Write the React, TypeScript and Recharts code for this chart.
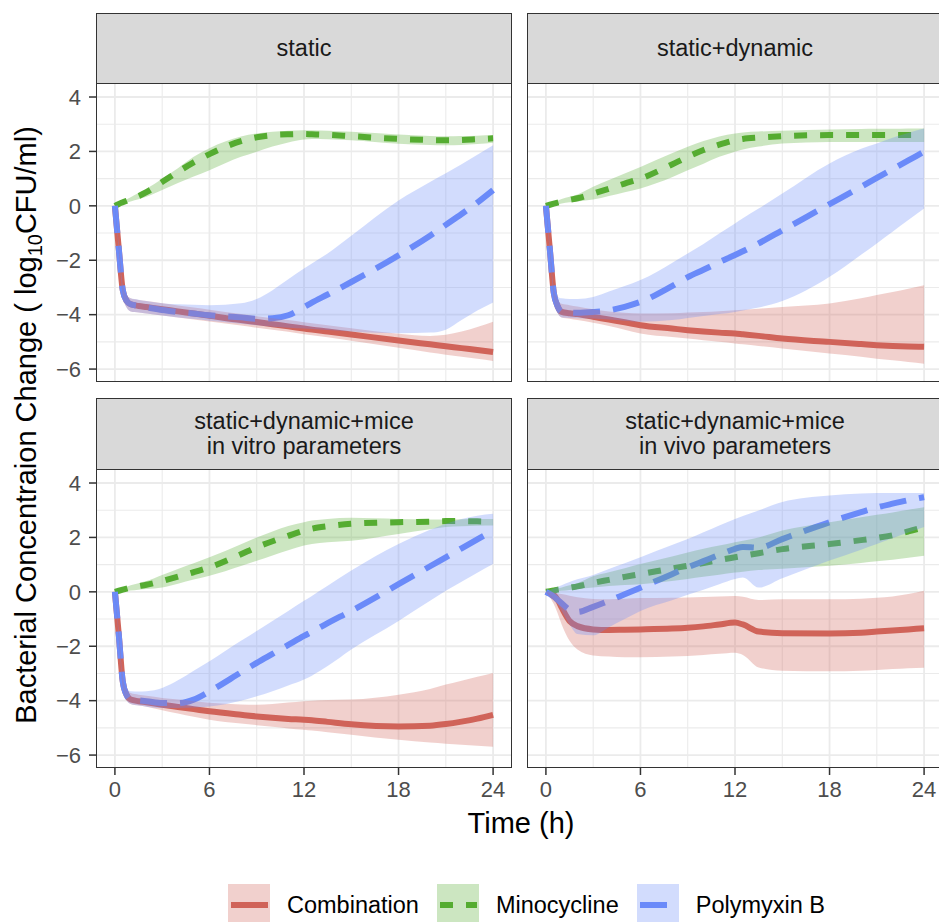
import { ComposedChart, Line, Area, XAxis, YAxis, ReferenceLine } from "recharts";

// time grid (h) shared by every panel
const TIME = [0, 0.25, 0.5, 0.75, 1, 1.5, 2, 3, 4, 5, 6, 8, 9, 10, 11, 12, 12.5, 13.5, 15, 18, 20, 21, 22, 23, 24];

const X_TICKS = [0, 6, 12, 18, 24];
const Y_TICKS = [-6, -4, -2, 0, 2, 4];
const X_GRID = [0, 3, 6, 9, 12, 15, 18, 21, 24];
const Y_GRID = [-6, -5, -4, -3, -2, -1, 0, 1, 2, 3, 4];

const SERIES = ["Combination", "Minocycline", "Polymyxin B"];

// panel 1: static
const P1_COMB = [0, -1.6, -3.1, -3.5, -3.62, -3.68, -3.72, -3.8, -3.88, -3.96, -4.04, -4.2, -4.27, -4.35, -4.43, -4.51, -4.55, -4.62, -4.73, -4.95, -5.09, -5.16, -5.23, -5.3, -5.37];
const P1_COMB_LO = [0, -1.7, -3.3, -3.75, -3.88, -3.92, -3.96, -4.03, -4.1, -4.18, -4.25, -4.4, -4.48, -4.55, -4.63, -4.72, -4.76, -4.83, -4.96, -5.22, -5.39, -5.47, -5.55, -5.62, -5.7];
const P1_COMB_HI = [0, -1.4, -2.9, -3.3, -3.4, -3.46, -3.5, -3.58, -3.66, -3.74, -3.82, -3.98, -4.06, -4.13, -4.2, -4.28, -4.32, -4.39, -4.5, -4.7, -4.78, -4.74, -4.62, -4.45, -4.26];
const P1_MINO = [0, 0.07, 0.13, 0.19, 0.25, 0.36, 0.5, 0.88, 1.25, 1.6, 1.9, 2.38, 2.52, 2.6, 2.63, 2.64, 2.63, 2.61, 2.56, 2.46, 2.42, 2.41, 2.42, 2.45, 2.48];
const P1_MINO_LO = [0, 0.04, 0.08, 0.12, 0.16, 0.24, 0.33, 0.58, 0.84, 1.08, 1.31, 1.8, 1.99, 2.18, 2.33, 2.44, 2.46, 2.45, 2.41, 2.28, 2.24, 2.23, 2.24, 2.27, 2.32];
const P1_MINO_HI = [0, 0.08, 0.16, 0.24, 0.32, 0.47, 0.63, 1.0, 1.38, 1.8, 2.12, 2.55, 2.66, 2.72, 2.76, 2.78, 2.78, 2.76, 2.72, 2.62, 2.57, 2.56, 2.57, 2.58, 2.6];
const P1_POLY = [0, -1.6, -3.1, -3.5, -3.62, -3.68, -3.73, -3.83, -3.9, -3.96, -4.02, -4.1, -4.15, -4.13, -4.02, -3.72, -3.56, -3.26, -2.8, -1.82, -1.1, -0.7, -0.3, 0.12, 0.58];
const P1_POLY_LO = [0, -1.7, -3.3, -3.75, -3.88, -3.92, -3.96, -4.03, -4.1, -4.16, -4.22, -4.33, -4.39, -4.44, -4.48, -4.51, -4.53, -4.56, -4.62, -4.68, -4.66, -4.55, -4.2, -3.85, -3.55];
const P1_POLY_HI = [0, -1.4, -2.9, -3.3, -3.4, -3.45, -3.5, -3.58, -3.62, -3.64, -3.65, -3.58, -3.42, -3.1, -2.7, -2.3, -2.12, -1.75, -1.1, 0.2, 0.88, 1.2, 1.53, 1.88, 2.23];

// panel 2: static+dynamic
const P2_COMB = [0, -1.6, -3.2, -3.7, -3.9, -3.95, -3.98, -4.08, -4.18, -4.28, -4.39, -4.51, -4.57, -4.62, -4.66, -4.69, -4.72, -4.78, -4.88, -5.0, -5.08, -5.12, -5.15, -5.17, -5.18];
const P2_COMB_LO = [0, -1.75, -3.4, -3.95, -4.1, -4.15, -4.2, -4.3, -4.42, -4.55, -4.69, -4.82, -4.88, -4.94, -5.0, -5.06, -5.09, -5.15, -5.24, -5.43, -5.55, -5.62, -5.68, -5.74, -5.8];
const P2_COMB_HI = [0, -1.45, -3.0, -3.45, -3.6, -3.65, -3.7, -3.8, -3.88, -3.93, -3.96, -3.95, -3.92, -3.9, -3.87, -3.84, -3.82, -3.78, -3.72, -3.59, -3.4, -3.28, -3.17, -3.05, -2.92];
const P2_MINO = [0, 0.04, 0.08, 0.12, 0.16, 0.22, 0.28, 0.45, 0.63, 0.82, 1.0, 1.52, 1.8, 2.05, 2.25, 2.41, 2.46, 2.51, 2.56, 2.6, 2.6, 2.6, 2.6, 2.6, 2.6];
const P2_MINO_LO = [0, 0.02, 0.04, 0.06, 0.09, 0.13, 0.16, 0.23, 0.36, 0.5, 0.64, 1.05, 1.31, 1.55, 1.8, 1.99, 2.07, 2.18, 2.29, 2.35, 2.35, 2.35, 2.35, 2.35, 2.35];
const P2_MINO_HI = [0, 0.07, 0.13, 0.19, 0.25, 0.33, 0.42, 0.7, 0.95, 1.19, 1.43, 1.93, 2.17, 2.38, 2.55, 2.66, 2.7, 2.73, 2.76, 2.81, 2.82, 2.83, 2.83, 2.84, 2.84];
const P2_POLY = [0, -1.6, -3.2, -3.7, -3.9, -3.92, -3.93, -3.9, -3.84, -3.71, -3.53, -2.95, -2.62, -2.35, -2.07, -1.81, -1.67, -1.38, -0.9, 0.06, 0.7, 1.03, 1.35, 1.67, 1.99];
const P2_POLY_LO = [0, -1.75, -3.4, -3.95, -4.1, -4.12, -4.13, -4.14, -4.18, -4.22, -4.26, -4.2, -4.12, -4.05, -3.98, -3.9, -3.85, -3.74, -3.5, -2.61, -1.8, -1.38, -0.95, -0.52, -0.1];
const P2_POLY_HI = [0, -1.45, -3.0, -3.35, -3.4, -3.42, -3.42, -3.35, -3.15, -2.95, -2.73, -2.1, -1.75, -1.4, -1.02, -0.65, -0.46, -0.1, 0.45, 1.56, 2.1, 2.29, 2.5, 2.68, 2.84];

// panel 3: static+dynamic+mice, in vitro parameters
const P3_COMB = [0, -1.6, -3.3, -3.8, -3.96, -4.02, -4.06, -4.15, -4.23, -4.31, -4.39, -4.52, -4.58, -4.63, -4.67, -4.7, -4.72, -4.78, -4.87, -4.95, -4.92, -4.86, -4.77, -4.66, -4.52];
const P3_COMB_LO = [0, -1.75, -3.5, -4.0, -4.12, -4.18, -4.22, -4.35, -4.47, -4.59, -4.7, -4.84, -4.9, -4.96, -5.02, -5.07, -5.1, -5.16, -5.25, -5.44, -5.54, -5.58, -5.62, -5.66, -5.69];
const P3_COMB_HI = [0, -1.45, -3.1, -3.6, -3.72, -3.78, -3.82, -3.9, -3.96, -4.02, -4.08, -4.14, -4.15, -4.12, -4.07, -4.02, -4.0, -3.98, -3.96, -3.78, -3.57, -3.41, -3.27, -3.12, -2.98];
const P3_MINO = [0, 0.04, 0.08, 0.12, 0.16, 0.21, 0.26, 0.4, 0.56, 0.72, 0.9, 1.38, 1.64, 1.86, 2.06, 2.25, 2.32, 2.41, 2.5, 2.56, 2.58, 2.6, 2.6, 2.59, 2.58];
const P3_MINO_LO = [0, 0.02, 0.03, 0.04, 0.05, 0.08, 0.1, 0.16, 0.3, 0.45, 0.59, 0.95, 1.14, 1.34, 1.53, 1.7, 1.76, 1.82, 1.88, 2.13, 2.3, 2.38, 2.41, 2.43, 2.44];
const P3_MINO_HI = [0, 0.07, 0.13, 0.19, 0.24, 0.32, 0.4, 0.62, 0.84, 1.05, 1.27, 1.75, 2.0, 2.22, 2.42, 2.56, 2.62, 2.68, 2.72, 2.68, 2.66, 2.66, 2.67, 2.68, 2.68];
const P3_POLY = [0, -1.6, -3.3, -3.8, -3.96, -3.99, -4.02, -4.09, -4.09, -3.96, -3.66, -2.96, -2.61, -2.28, -1.95, -1.62, -1.47, -1.15, -0.7, 0.28, 0.94, 1.27, 1.6, 1.93, 2.25];
const P3_POLY_LO = [0, -1.75, -3.5, -4.0, -4.12, -4.18, -4.22, -4.27, -4.27, -4.25, -4.21, -4.0, -3.84, -3.65, -3.44, -3.22, -3.08, -2.73, -2.12, -1.07, -0.33, 0.04, 0.37, 0.7, 1.02];
const P3_POLY_HI = [0, -1.45, -3.1, -3.55, -3.65, -3.66, -3.65, -3.53, -3.25, -2.9, -2.55, -1.8, -1.44, -1.07, -0.7, -0.33, -0.15, 0.22, 0.78, 1.76, 2.28, 2.5, 2.68, 2.8, 2.87];

// panel 4: static+dynamic+mice, in vivo parameters
const P4_COMB = [0, -0.05, -0.12, -0.3, -0.58, -1.07, -1.26, -1.38, -1.4, -1.39, -1.38, -1.35, -1.32, -1.27, -1.2, -1.13, -1.2, -1.46, -1.52, -1.53, -1.5, -1.46, -1.42, -1.38, -1.34];
const P4_COMB_LO = [0, -0.2, -0.45, -0.8, -1.2, -1.8, -2.12, -2.34, -2.38, -2.4, -2.4, -2.38, -2.36, -2.32, -2.28, -2.24, -2.32, -2.78, -2.9, -2.92, -2.9, -2.87, -2.84, -2.81, -2.79];
const P4_COMB_HI = [0, 0, -0.02, -0.05, -0.08, -0.14, -0.2, -0.26, -0.27, -0.25, -0.23, -0.22, -0.21, -0.19, -0.17, -0.15, -0.18, -0.3, -0.27, -0.27, -0.25, -0.22, -0.17, -0.08, 0.04];
const P4_MINO = [0, 0.02, 0.05, 0.08, 0.1, 0.15, 0.2, 0.33, 0.44, 0.55, 0.65, 0.86, 0.96, 1.06, 1.17, 1.27, 1.32, 1.42, 1.57, 1.76, 1.9, 1.98, 2.08, 2.22, 2.38];
const P4_MINO_LO = [0, 0.01, 0.02, 0.03, 0.04, 0.07, 0.1, 0.16, 0.21, 0.25, 0.28, 0.4, 0.47, 0.55, 0.63, 0.71, 0.74, 0.8, 0.85, 0.96, 1.06, 1.12, 1.18, 1.25, 1.33];
const P4_MINO_HI = [0, 0.04, 0.08, 0.12, 0.16, 0.24, 0.32, 0.57, 0.72, 0.87, 1.02, 1.3, 1.45, 1.58, 1.7, 1.82, 1.88, 2.0, 2.25, 2.56, 2.74, 2.83, 2.92, 3.02, 3.11];
const P4_POLY = [0, -0.08, -0.18, -0.3, -0.42, -0.66, -0.74, -0.55, -0.33, -0.09, 0.15, 0.65, 0.9, 1.13, 1.36, 1.58, 1.65, 1.62, 1.94, 2.56, 2.93, 3.1, 3.24, 3.37, 3.48];
const P4_POLY_LO = [0, -0.1, -0.25, -0.45, -0.7, -1.2, -1.55, -1.6, -1.3, -1.0, -0.7, -0.31, -0.11, 0.08, 0.28, 0.47, 0.53, 0.16, 0.5, 1.15, 1.55, 1.76, 1.97, 2.18, 2.38];
const P4_POLY_HI = [0, 0.06, 0.12, 0.18, 0.24, 0.36, 0.46, 0.62, 0.84, 1.05, 1.27, 1.72, 1.94, 2.19, 2.44, 2.68, 2.79, 2.99, 3.3, 3.54, 3.61, 3.63, 3.63, 3.63, 3.63];

const RED = "#D0645A";
const GREEN = "#55AC32";
const BLUE = "#6B8AF9";
const GRID = "#EBEBEB";
const FONT = "'Liberation Sans', Arial, Helvetica, sans-serif";

const X_DOMAIN = [-1.2, 25.2];
const Y_DOMAIN = [-6.475, 4.515];
const PLOT_W = 416;
const PLOT_H = 299;

const buildRows = (
  comb: number[], combLo: number[], combHi: number[],
  mino: number[], minoLo: number[], minoHi: number[],
  poly: number[], polyLo: number[], polyHi: number[]
) =>
  TIME.map((t, i) => ({
    t,
    comb: comb[i],
    combBand: [combLo[i], combHi[i]],
    mino: mino[i],
    minoBand: [minoLo[i], minoHi[i]],
    poly: poly[i],
    polyBand: [polyLo[i], polyHi[i]],
  }));

const PANELS = [
  {
    strip: ["static"],
    rows: buildRows(P1_COMB, P1_COMB_LO, P1_COMB_HI, P1_MINO, P1_MINO_LO, P1_MINO_HI, P1_POLY, P1_POLY_LO, P1_POLY_HI),
    left: 96, top: 83, stripTop: 13, showX: false, showY: true,
  },
  {
    strip: ["static+dynamic"],
    rows: buildRows(P2_COMB, P2_COMB_LO, P2_COMB_HI, P2_MINO, P2_MINO_LO, P2_MINO_HI, P2_POLY, P2_POLY_LO, P2_POLY_HI),
    left: 527, top: 83, stripTop: 13, showX: false, showY: false,
  },
  {
    strip: ["static+dynamic+mice", "in vitro parameters"],
    rows: buildRows(P3_COMB, P3_COMB_LO, P3_COMB_HI, P3_MINO, P3_MINO_LO, P3_MINO_HI, P3_POLY, P3_POLY_LO, P3_POLY_HI),
    left: 96, top: 469, stripTop: 398, showX: true, showY: true,
  },
  {
    strip: ["static+dynamic+mice", "in vivo parameters"],
    rows: buildRows(P4_COMB, P4_COMB_LO, P4_COMB_HI, P4_MINO, P4_MINO_LO, P4_MINO_HI, P4_POLY, P4_POLY_LO, P4_POLY_HI),
    left: 527, top: 469, stripTop: 398, showX: true, showY: false,
  },
];

const minus = (v: number) => String(v).replace("-", "\u2212");

const tickStyle = { fill: "#4D4D4D", fontSize: 22, fontFamily: FONT };

function Facet({ p }: { p: (typeof PANELS)[number] }) {
  const axisW = p.showY ? 60 : 0;
  const axisH = p.showX ? 45 : 0;
  const w = PLOT_W + axisW;
  const h = PLOT_H + axisH;
  return (
    <>
      <div style={{ position: "absolute", left: p.left - axisW, top: p.top, width: w, height: h }}>
        <ComposedChart width={w} height={h} data={p.rows} margin={{ top: 0, right: 0, bottom: 0, left: 0 }} style={{ overflow: "visible" }}>
          <XAxis
            dataKey="t"
            type="number"
            domain={X_DOMAIN}
            ticks={X_TICKS}
            interval={0}
            allowDataOverflow
            hide={!p.showX}
            height={45}
            axisLine={false}
            tickSize={7}
            tickMargin={6}
            tick={tickStyle}
            tickLine={{ stroke: "#333333", strokeWidth: 1.5 }}
          />
          <YAxis
            type="number"
            domain={Y_DOMAIN}
            ticks={Y_TICKS}
            interval={0}
            allowDataOverflow
            hide={!p.showY}
            width={60}
            axisLine={false}
            tickSize={7}
            tickMargin={8}
            tick={tickStyle}
            tickFormatter={minus}
            tickLine={{ stroke: "#333333", strokeWidth: 1.5 }}
          />
          {X_GRID.map((v) => (
            <ReferenceLine key={"gx" + v} x={v} stroke={GRID} strokeWidth={v % 6 === 0 ? 1.8 : 1.1} zIndex={-50} />
          ))}
          {Y_GRID.map((v) => (
            <ReferenceLine key={"gy" + v} y={v} stroke={GRID} strokeWidth={v % 2 === 0 ? 1.8 : 1.1} zIndex={-50} />
          ))}
          <Line dataKey="comb" name={SERIES[0]} type="monotone" stroke={RED} strokeWidth={6} strokeLinejoin="round" dot={false} activeDot={false} isAnimationActive={false} zIndex={300} />
          <Line dataKey="mino" name={SERIES[1]} type="monotone" stroke={GREEN} strokeWidth={6} strokeDasharray="13 13" strokeLinejoin="round" dot={false} activeDot={false} isAnimationActive={false} zIndex={301} />
          <Line dataKey="poly" name={SERIES[2]} type="monotone" stroke={BLUE} strokeWidth={6} strokeDasharray="27 13" strokeLinejoin="round" dot={false} activeDot={false} isAnimationActive={false} zIndex={302} />
          <Area dataKey="combBand" type="monotone" fill={RED} fillOpacity={0.3} stroke="none" dot={false} activeDot={false} isAnimationActive={false} zIndex={450} />
          <Area dataKey="minoBand" type="monotone" fill={GREEN} fillOpacity={0.3} stroke="none" dot={false} activeDot={false} isAnimationActive={false} zIndex={451} />
          <Area dataKey="polyBand" type="monotone" fill={BLUE} fillOpacity={0.3} stroke="none" dot={false} activeDot={false} isAnimationActive={false} zIndex={452} />
        </ComposedChart>
      </div>
      {/* panel border */}
      <div
        style={{
          position: "absolute", left: p.left, top: p.top, width: PLOT_W, height: PLOT_H,
          border: "1.5px solid #333333", boxSizing: "border-box", pointerEvents: "none",
        }}
      />
      {/* strip */}
      <div
        style={{
          position: "absolute", left: p.left, top: p.stripTop, width: PLOT_W, height: p.top - p.stripTop + 1,
          background: "#D9D9D9", border: "1.5px solid #333333", boxSizing: "border-box",
          display: "flex", flexDirection: "column", alignItems: "center", justifyContent: "center",
          fontFamily: FONT, fontSize: 23.5, color: "#1A1A1A", lineHeight: "25px",
        }}
      >
        {p.strip.map((s) => (
          <div key={s}>{s}</div>
        ))}
      </div>
    </>
  );
}

const LEGEND = [
  { label: SERIES[0], color: RED, dash: undefined as string | undefined },
  { label: SERIES[1], color: GREEN, dash: "13 13" },
  { label: SERIES[2], color: BLUE, dash: "27 13" },
];

export default function App() {
  return (
    <div
      style={{
        position: "absolute", left: 0, top: 0, width: 939, height: 922, overflow: "hidden",
        background: "#FFFFFF", fontFamily: FONT,
      }}
    >
      {PANELS.map((p, i) => (
        <Facet key={i} p={p} />
      ))}
      <svg width={939} height={922} style={{ position: "absolute", left: 0, top: 0, pointerEvents: "none" }}>
        <text transform="translate(36,425) rotate(-90)" textAnchor="middle" fontSize={29} fontFamily={FONT} fill="#000">
          <tspan>Bacterial Concentraion Change ( log</tspan>
          <tspan fontSize={20} dy={6}>10</tspan>
          <tspan dy={-6}>CFU/ml)</tspan>
        </text>
        <text x={521} y={833} textAnchor="middle" fontSize={29} fontFamily={FONT} fill="#000">
          Time (h)
        </text>
      </svg>
      <div style={{ position: "absolute", left: 228, top: 884, display: "flex", alignItems: "center", height: 42 }}>
        {LEGEND.map((l) => (
          <div key={l.label} style={{ display: "flex", alignItems: "center", marginRight: 18 }}>
            <svg width={42} height={42}>
              <line x1={3} x2={40} y1={21} y2={21} stroke={l.color} strokeWidth={6} strokeDasharray={l.dash} />
              <rect x={0} y={0} width={42} height={42} fill={l.color} fillOpacity={0.3} />
            </svg>
            <span style={{ marginLeft: 17, fontSize: 23.5, color: "#000" }}>{l.label}</span>
          </div>
        ))}
      </div>
    </div>
  );
}
